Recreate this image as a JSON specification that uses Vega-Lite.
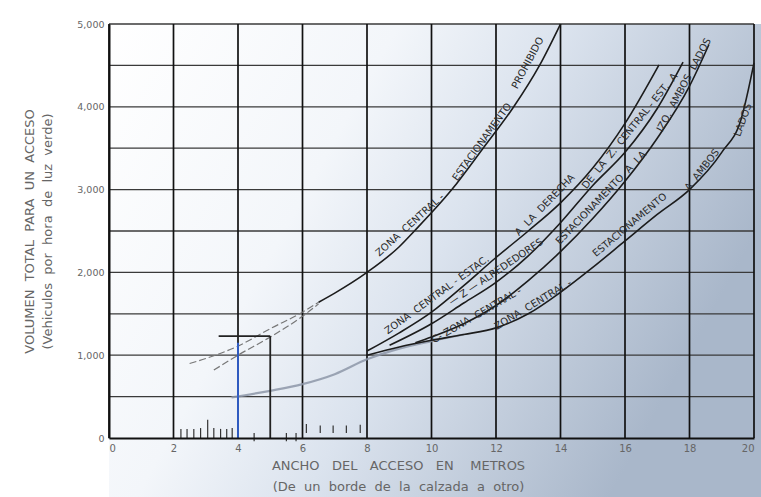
{
  "$schema": "https://vega.github.io/schema/vega-lite/v6.json",
  "width": 645,
  "height": 414,
  "autosize": "none",
  "padding": {"left": 109, "top": 24, "right": 7, "bottom": 59},
  "background": "#ffffff",
  "config": {
    "view": {"stroke": null},
    "font": "DejaVu Sans",
    "axis": {"grid": false, "ticks": false, "domainColor": "#111", "domainWidth": 2, "labelColor": "#666", "labelFont": "DejaVu Sans", "titleFont": "DejaVu Sans", "titleColor": "#666", "titleFontWeight": "normal"}
  },
  "datasets": {
    "bg": [{"x": 0, "x2": 20.4, "y": -720, "y2": 5000}],
    "vgrid": [{"v": 0}, {"v": 2}, {"v": 4}, {"v": 6}, {"v": 8}, {"v": 10}, {"v": 12}, {"v": 14}, {"v": 16}, {"v": 18}, {"v": 20}],
    "hgrid": [{"v": 500}, {"v": 1000}, {"v": 1500}, {"v": 2000}, {"v": 2500}, {"v": 3000}, {"v": 3500}, {"v": 4000}, {"v": 4500}, {"v": 5000}],
    "curves": [
      {"c": "1", "x": 6.5, "y": 1640}, {"c": "1", "x": 7, "y": 1750}, {"c": "1", "x": 8, "y": 2000}, {"c": "1", "x": 9, "y": 2310}, {"c": "1", "x": 9.47, "y": 2500}, {"c": "1", "x": 10.63, "y": 3000}, {"c": "1", "x": 11.6, "y": 3500}, {"c": "1", "x": 12.55, "y": 4000}, {"c": "1", "x": 13.35, "y": 4500}, {"c": "1", "x": 14, "y": 5000},
      {"c": "2", "x": 8, "y": 1050}, {"c": "2", "x": 9, "y": 1270}, {"c": "2", "x": 10, "y": 1520}, {"c": "2", "x": 11, "y": 1840}, {"c": "2", "x": 12, "y": 2180}, {"c": "2", "x": 13, "y": 2500}, {"c": "2", "x": 14, "y": 2840}, {"c": "2", "x": 15, "y": 3260}, {"c": "2", "x": 16, "y": 3800}, {"c": "2", "x": 17.05, "y": 4505},
      {"c": "3", "x": 8.7, "y": 1120}, {"c": "3", "x": 10, "y": 1380}, {"c": "3", "x": 11, "y": 1630}, {"c": "3", "x": 12, "y": 1880}, {"c": "3", "x": 13, "y": 2200}, {"c": "3", "x": 14, "y": 2600}, {"c": "3", "x": 15, "y": 3050}, {"c": "3", "x": 16, "y": 3450}, {"c": "3", "x": 17, "y": 3980}, {"c": "3", "x": 17.8, "y": 4540},
      {"c": "4", "x": 9.5, "y": 1150}, {"c": "4", "x": 10, "y": 1220}, {"c": "4", "x": 11, "y": 1380}, {"c": "4", "x": 12, "y": 1600}, {"c": "4", "x": 13, "y": 1900}, {"c": "4", "x": 14, "y": 2250}, {"c": "4", "x": 15, "y": 2650}, {"c": "4", "x": 16, "y": 3100}, {"c": "4", "x": 17, "y": 3620}, {"c": "4", "x": 18, "y": 4250}, {"c": "4", "x": 18.6, "y": 4750},
      {"c": "5", "x": 8, "y": 1000}, {"c": "5", "x": 9, "y": 1100}, {"c": "5", "x": 10, "y": 1180}, {"c": "5", "x": 11, "y": 1250}, {"c": "5", "x": 12, "y": 1330}, {"c": "5", "x": 13, "y": 1500}, {"c": "5", "x": 14, "y": 1760}, {"c": "5", "x": 15, "y": 2060}, {"c": "5", "x": 16, "y": 2380}, {"c": "5", "x": 17, "y": 2700}, {"c": "5", "x": 18, "y": 3000}, {"c": "5", "x": 19, "y": 3450}, {"c": "5", "x": 19.6, "y": 3850}, {"c": "5", "x": 20, "y": 4530}
    ],
    "dashed": [
      {"c": "a", "x": 2.5, "y": 900}, {"c": "a", "x": 3, "y": 960}, {"c": "a", "x": 4, "y": 1110}, {"c": "a", "x": 5, "y": 1320}, {"c": "a", "x": 6, "y": 1520}, {"c": "a", "x": 6.5, "y": 1640},
      {"c": "b", "x": 3.25, "y": 820}, {"c": "b", "x": 4, "y": 1000}, {"c": "b", "x": 5, "y": 1220}, {"c": "b", "x": 6, "y": 1470}, {"c": "b", "x": 6.5, "y": 1620}
    ],
    "grey": [
      {"x": 3.8, "y": 490}, {"x": 5, "y": 570}, {"x": 6, "y": 650}, {"x": 7, "y": 770}, {"x": 8, "y": 950}, {"x": 9, "y": 1080}, {"x": 10, "y": 1170}, {"x": 11, "y": 1250}
    ],
    "rules": [
      {"x": 4, "x2": 4, "y": 0, "y2": 1150, "k": "blue"},
      {"x": 5, "x2": 5, "y": 0, "y2": 1230, "k": "black"},
      {"x": 3.4, "x2": 5, "y": 1230, "y2": 1230, "k": "black"}
    ],
    "ticks": [
      {"x": 2.23, "y": 0, "y2": 110}, {"x": 2.42, "y": 0, "y2": 110}, {"x": 2.63, "y": 0, "y2": 110}, {"x": 2.84, "y": 0, "y2": 120}, {"x": 3.06, "y": 0, "y2": 220}, {"x": 3.25, "y": 0, "y2": 120}, {"x": 3.46, "y": 0, "y2": 110}, {"x": 3.65, "y": 0, "y2": 110}, {"x": 3.82, "y": 0, "y2": 120},
      {"x": 6.12, "y": 60, "y2": 170}, {"x": 6.55, "y": 60, "y2": 150}, {"x": 6.95, "y": 60, "y2": 150}, {"x": 7.36, "y": 60, "y2": 150}, {"x": 7.79, "y": 60, "y2": 160},
      {"x": 4.5, "y": -40, "y2": 60}, {"x": 5.5, "y": -40, "y2": 60}, {"x": 5.8, "y": -40, "y2": 60}
    ],
    "labels": [
      {"t": "ZONA\u00a0\u00a0CENTRAL\u00a0-", "x": 9.33, "y": 2572, "a": -42},
      {"t": "ESTACIONAMENTO", "x": 11.57, "y": 3575, "a": -54},
      {"t": "PROHIBIDO", "x": 12.99, "y": 4529, "a": -62},
      {"t": "ZONA\u00a0\u00a0CENTRAL\u00a0-\u00a0ESTAC.", "x": 10.17, "y": 1727, "a": -36},
      {"t": "A\u00a0\u00a0LA\u00a0\u00a0DERECHA", "x": 13.52, "y": 2814, "a": -46},
      {"t": "—\u00a0Z\u00a0—\u00a0ALREDEDORES", "x": 12.0, "y": 2005, "a": -34},
      {"t": "DE\u00a0\u00a0LA\u00a0\u00a0Z.\u00a0\u00a0CENTRAL\u00a0-\u00a0EST.\u00a0\u00a0A", "x": 16.15, "y": 3708, "a": -51},
      {"t": "C-\u00a0ZONA\u00a0\u00a0CENTRAL\u00a0-", "x": 11.4, "y": 1480, "a": -30},
      {"t": "ESTACIONAMENTO\u00a0\u00a0A\u00a0\u00a0LA", "x": 15.26, "y": 2900, "a": -46},
      {"t": "IZQ.\u00a0\u00a0AMBOS\u00a0\u00a0LADOS", "x": 17.83, "y": 4263, "a": -62},
      {"t": "ZONA\u00a0\u00a0CENTRAL\u00a0-", "x": 13.15, "y": 1610, "a": -31},
      {"t": "ESTACIONAMENTO", "x": 16.15, "y": 2572, "a": -40},
      {"t": "A\u00a0\u00a0AMBOS", "x": 18.39, "y": 3237, "a": -52},
      {"t": "LADOS", "x": 19.66, "y": 3840, "a": -70}
    ]
  },
  "layer": [
    {
      "data": {"name": "bg"},
      "mark": {"type": "rect", "color": {"gradient": "linear", "x1": 0, "y1": 0, "x2": 1, "y2": 0.4, "stops": [{"offset": 0, "color": "#ffffff"}, {"offset": 0.38, "color": "#f3f6fa"}, {"offset": 0.6, "color": "#dbe3ee"}, {"offset": 0.8, "color": "#c2cddc"}, {"offset": 1, "color": "#a9b7ca"}]}},
      "encoding": {
        "x": {"field": "x", "type": "quantitative", "scale": {"domain": [0, 20], "nice": false}, "axis": {"zindex": 2, "values": [0, 2, 4, 6, 8, 10, 12, 14, 16, 18, 20], "labelFontSize": 10, "labelPadding": 5, "title": ["ANCHO\u00a0\u00a0\u00a0DEL\u00a0\u00a0\u00a0ACCESO\u00a0\u00a0\u00a0EN\u00a0\u00a0\u00a0\u00a0METROS", "(De\u00a0 un\u00a0 borde\u00a0 de\u00a0 la\u00a0 calzada\u00a0 a\u00a0 otro)"], "titleFontSize": 13, "titleLineHeight": 21, "titleX": 289, "titleY": 21, "titleBaseline": "top", "titleAlign": "center"}},
        "x2": {"field": "x2"},
        "y": {"field": "y", "type": "quantitative", "scale": {"domain": [0, 5000], "nice": false}, "axis": {"zindex": 2, "values": [0, 1000, 2000, 3000, 4000, 5000], "format": ",.0f", "labelFontSize": 9.5, "labelPadding": 5, "title": ["VOLUMEN\u00a0\u00a0TOTAL\u00a0\u00a0PARA\u00a0\u00a0UN\u00a0\u00a0ACCESO", "(Vehiculos\u00a0 por\u00a0 hora\u00a0 de\u00a0 luz\u00a0 verde)"], "titleFontSize": 13, "titleLineHeight": 18, "titleAngle": -90, "titleX": -86, "titleY": 207, "titleBaseline": "top", "titleAlign": "center"}},
        "y2": {"field": "y2"}
      }
    },
    {
      "data": {"name": "hgrid"},
      "mark": {"type": "rule", "color": "#3a3a3a", "strokeWidth": 1.3},
      "encoding": {"y": {"field": "v", "type": "quantitative"}}
    },
    {
      "data": {"name": "vgrid"},
      "mark": {"type": "rule", "color": "#111111", "strokeWidth": 1.7},
      "encoding": {"x": {"field": "v", "type": "quantitative"}}
    },
    {
      "data": {"name": "grey"},
      "mark": {"type": "line", "interpolate": "monotone", "color": "#8d97a8", "strokeWidth": 2.2, "opacity": 0.85},
      "encoding": {"x": {"field": "x", "type": "quantitative"}, "y": {"field": "y", "type": "quantitative"}}
    },
    {
      "data": {"name": "dashed"},
      "mark": {"type": "line", "interpolate": "monotone", "color": "#777777", "strokeWidth": 1.2, "strokeDash": [7, 3]},
      "encoding": {"x": {"field": "x", "type": "quantitative"}, "y": {"field": "y", "type": "quantitative"}, "detail": {"field": "c"}}
    },
    {
      "data": {"name": "curves"},
      "mark": {"type": "line", "interpolate": "monotone", "color": "#1c1c1c", "strokeWidth": 1.6},
      "encoding": {"x": {"field": "x", "type": "quantitative"}, "y": {"field": "y", "type": "quantitative"}, "detail": {"field": "c"}}
    },
    {
      "data": {"name": "rules"},
      "mark": {"type": "rule", "strokeWidth": 1.8},
      "encoding": {
        "x": {"field": "x", "type": "quantitative"}, "x2": {"field": "x2"},
        "y": {"field": "y", "type": "quantitative"}, "y2": {"field": "y2"},
        "color": {"field": "k", "type": "nominal", "scale": {"domain": ["blue", "black"], "range": ["#2f5fd0", "#222222"]}, "legend": null}
      }
    },
    {
      "data": {"name": "ticks"},
      "mark": {"type": "rule", "color": "#333333", "strokeWidth": 1.2},
      "encoding": {"x": {"field": "x", "type": "quantitative"}, "y": {"field": "y", "type": "quantitative"}, "y2": {"field": "y2"}}
    },
    {
      "data": {"name": "labels"},
      "mark": {"type": "text", "fontSize": 10, "color": "#2a2a2a", "align": "center", "baseline": "middle"},
      "encoding": {
        "x": {"field": "x", "type": "quantitative"},
        "y": {"field": "y", "type": "quantitative"},
        "text": {"field": "t"},
        "angle": {"field": "a", "type": "quantitative", "scale": null}
      }
    }
  ]
}
